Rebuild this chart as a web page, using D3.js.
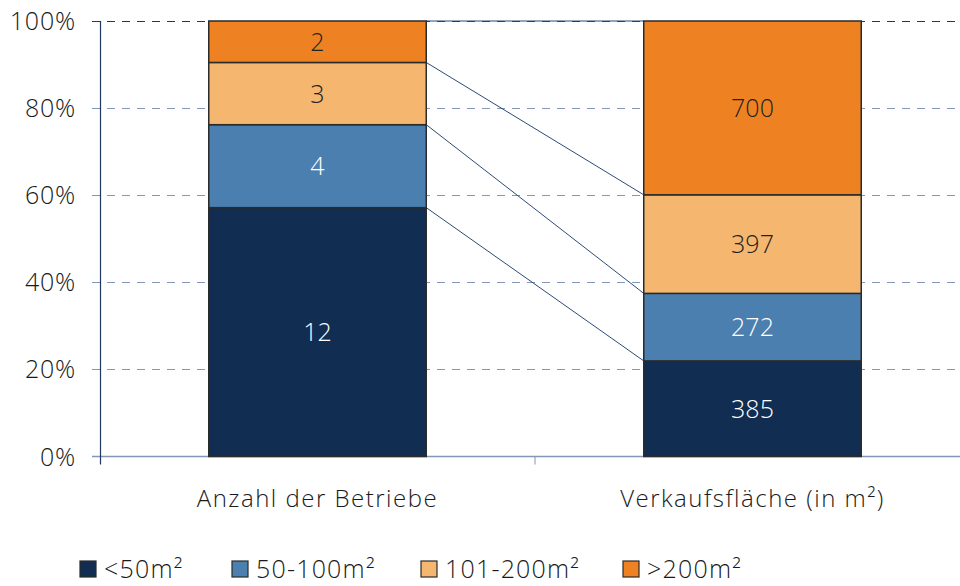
<!DOCTYPE html>
<html>
<head>
<meta charset="utf-8">
<script src="https://cdn.jsdelivr.net/npm/d3@7"></script>
<style>
  body { margin: 0; background: #fff; }
  svg { display: block; font-family: "Open Sans", Lato, sans-serif; font-weight: 350; }
</style>
</head>
<body>
<div id="chart"></div>
<script>
const categories = ["Anzahl der Betriebe", "Verkaufsfläche (in m²)"];
const classes = ["<50m²", "50-100m²", "101-200m²", ">200m²"];
const colors = ["#112d52", "#4a7fb0", "#f5b770", "#ee8222"];
const labelColors = ["#fff", "#fff", "#222", "#222"];
// values per class, one entry per category
const anzahl = [12, 4, 3, 2];
const flaeche = [385, 272, 397, 700];
const yTicks = [0, 20, 40, 60, 80, 100];

const width = 960, height = 586;
const margin = { top: 21, right: -10, bottom: 130, left: 100 };

const svg = d3.select("#chart").append("svg")
  .attr("width", width).attr("height", height);

const x = d3.scaleBand()
  .domain(categories)
  .range([margin.left, width - margin.right])
  .paddingInner(0.5)
  .paddingOuter(0.25);

const y = d3.scaleLinear()
  .domain([0, 100])
  .range([height - margin.bottom + 0.5, margin.top]);

// build stacked percentage segments
const series = [anzahl, flaeche];
const stacks = series.map((vals, ci) => {
  const total = d3.sum(vals);
  let acc = 0;
  return vals.map((v, i) => {
    const y0 = acc;
    acc += (v / total) * 100;
    return { cat: categories[ci], i, value: v, y0, y1: acc };
  });
});

// grid
svg.append("g")
  .selectAll("line")
  .data(yTicks.filter(d => d > 0))
  .join("line")
  .attr("x1", 92).attr("x2", 955)
  .attr("y1", d => Math.round(y(d)) + 0.5)
  .attr("y2", d => Math.round(y(d)) + 0.5)
  .attr("stroke", d => d === 100 ? "#1f3864" : "#8497b4")
  .attr("stroke-width", 1.2)
  .attr("stroke-dasharray", "8 7");

// x axis line
svg.append("line")
  .attr("x1", 92).attr("x2", width)
  .attr("y1", y(0)).attr("y2", y(0))
  .attr("stroke", "#8497b4").attr("stroke-width", 1.5);

// category separator tick
const sepX = x(categories[1]) - x.step() * x.paddingInner() / 2;
svg.append("line")
  .attr("x1", sepX).attr("x2", sepX)
  .attr("y1", y(0)).attr("y2", y(0) + 8)
  .attr("stroke", "#8497b4").attr("stroke-width", 1);

// y axis
svg.append("line")
  .attr("x1", margin.left + 0.5).attr("x2", margin.left + 0.5)
  .attr("y1", y(100)).attr("y2", y(0) + 8)
  .attr("stroke", "#1f3864").attr("stroke-width", 1.2);

svg.append("g")
  .selectAll("text")
  .data(yTicks)
  .join("text")
  .attr("x", 76)
  .attr("y", d => y(d))
  .attr("dy", "0.36em")
  .attr("text-anchor", "end")
  .attr("fill", "#1a1a1a")
  .style("font-size", "25px")
  .style("letter-spacing", "0.8px")
  .text(d => d + "%");

// connecting lines between bar boundaries
const connectors = stacks[0].map((s, i) => ({ a: s.y1, b: stacks[1][i].y1 }));
svg.append("g")
  .selectAll("line")
  .data(connectors)
  .join("line")
  .attr("x1", x(categories[0]) + x.bandwidth())
  .attr("x2", x(categories[1]))
  .attr("y1", d => y(d.a))
  .attr("y2", d => y(d.b))
  .attr("stroke", "#2c4a78")
  .attr("stroke-width", 1);

// bars
const seg = svg.append("g")
  .selectAll("g")
  .data(stacks.flat())
  .join("g");

seg.append("rect")
  .attr("x", d => x(d.cat))
  .attr("width", x.bandwidth())
  .attr("y", d => y(d.y1))
  .attr("height", d => y(d.y0) - y(d.y1))
  .attr("fill", d => colors[d.i])
  .attr("stroke", "#2b2b2b")
  .attr("stroke-width", 1.5);

seg.append("text")
  .attr("x", d => x(d.cat) + x.bandwidth() / 2)
  .attr("y", d => y((d.y0 + d.y1) / 2))
  .attr("dy", "0.36em")
  .attr("text-anchor", "middle")
  .attr("fill", d => labelColors[d.i])
  .style("font-size", "25px")
  .text(d => d.value);

// category labels
svg.append("g")
  .selectAll("text")
  .data(categories)
  .join("text")
  .attr("x", d => x(d) + x.bandwidth() / 2)
  .attr("y", 507)
  .attr("text-anchor", "middle")
  .attr("fill", "#1a1a1a")
  .style("font-size", "24px")
  .style("letter-spacing", "1.5px")
  .text(d => d);

// legend
const legendX = [80, 232, 421, 623];
const leg = svg.append("g")
  .selectAll("g")
  .data(classes)
  .join("g")
  .attr("transform", (d, i) => `translate(${legendX[i]},561)`);

leg.append("rect")
  .attr("width", 16).attr("height", 16)
  .attr("fill", (d, i) => colors[i])
  .attr("stroke", "#2b2b2b").attr("stroke-width", 1.2);

leg.append("text")
  .attr("x", 24)
  .attr("y", 17)
  .attr("fill", "#1a1a1a")
  .style("font-size", "25px")
  .style("letter-spacing", "1.2px")
  .text(d => d);
</script>
</body>
</html>
